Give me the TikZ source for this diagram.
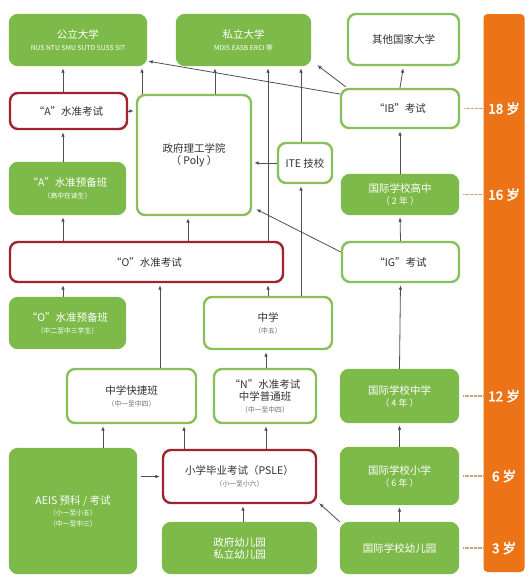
\documentclass[tikz,border=0pt]{standalone}
\usepackage{fontspec}
\setmainfont{Noto Sans CJK SC}[AutoFakeBold=2.5]
\usetikzlibrary{arrows.meta}
\definecolor{gfill}{RGB}{125,186,74}
\definecolor{gline}{RGB}{138,192,92}
\definecolor{rline}{RGB}{160,35,45}
\definecolor{orng}{RGB}{236,116,22}
\definecolor{arrc}{RGB}{80,80,80}
\definecolor{txt}{RGB}{50,50,50}
\definecolor{subt}{RGB}{105,105,105}
\definecolor{dotc}{RGB}{205,165,125}
\newcommand\sm{\fontsize{6.8}{9}\selectfont}
\newcommand\md{\fontsize{9}{11}\selectfont}
\newcommand\bx[7]{\node[#6, minimum width={#4-#2}, minimum height={#5-#3}] (#1) at ({(#2+#4)/2},{(#3+#5)/2}) {#7};}
\begin{document}
\begin{tikzpicture}[x=1pt,y=-1pt,
  box/.style={rounded corners=8pt, line width=2.4pt, align=center, inner sep=0pt, font=\fontsize{10.5}{14}\selectfont},
  gbox/.style={box, fill=gfill, draw=gfill, text=white},
  wbox/.style={box, fill=white, draw=gline, text=txt},
  rbox/.style={box, fill=white, draw=rline, text=txt},
  arr/.style={draw=arrc, line width=0.8pt, -{Latex[length=4.5pt,width=3.6pt]}, shorten >=2pt},
  dotln/.style={draw=dotc, line width=1.6pt, dash pattern=on 0.8pt off 0.5pt},
  agelab/.style={text=white, font=\bfseries\fontsize{13.5}{14}\selectfont}]
\useasboundingbox (0,0) rectangle (532,581);
\fill[white] (0,0) rectangle (532,581);
% orange bar
\node[fill=orng, rounded corners=4pt, minimum width=41, minimum height=558, inner sep=0pt] (bar) at (504,293) {};
% boxes
\bx{pub}{10}{15}{146}{65}{gbox}{公立大学\\[-2pt]{\sm NUS NTU SMU SUTD SUSS SIT}}
\bx{pri}{177}{15}{310}{65}{gbox}{私立大学\\[-2pt]{\sm MDIS EASB ERCI 等}}
\bx{oth}{348}{14}{459}{65}{wbox}{其他国家大学}
\bx{ao}{10}{93}{127}{129}{rbox}{“A”水准考试}
\bx{poly}{137}{95}{251}{215}{wbox}{政府理工学院\\[-2pt]（ Poly ）}
\bx{ite}{278}{143}{332}{183}{wbox}{ITE 技校}
\bx{ib}{341}{89}{459}{128}{wbox}{“IB”考试}
\bx{aprep}{10}{163}{125}{214}{gbox}{“A”水准预备班\\[-2pt]{\sm（高中在读生）}}
\bx{ihs}{342}{175}{458}{214}{gbox}{国际学校高中\\[-2pt]{\md（ 2 年 ）}}
\bx{o}{10}{242}{283}{282}{rbox}{“O”水准考试}
\bx{ig}{342}{242}{459}{282}{wbox}{“IG”考试}
\bx{oprep}{10}{298}{125}{348}{gbox}{“O”水准预备班\\[-2pt]{\sm（中二至中三学生）}}
\bx{sec}{204}{297}{332}{349}{wbox}{中学\\[-2pt]{\sm\color{subt}（中五）}}
\bx{exp}{67}{369}{196}{423}{wbox}{中学快捷班\\[-2pt]{\sm\color{subt}（中一至中四）}}
\bx{nlev}{214}{369}{316}{423}{wbox}{“N”水准考试\\[-2pt]中学普通班\\[-2pt]{\sm\color{subt}（中一至中四）}}
\bx{ims}{341}{370}{458}{422}{gbox}{国际学校中学\\[-2pt]{\md（ 4 年 ）}}
\bx{aeis}{10}{449}{136}{573}{gbox}{AEIS 预科 / 考试\\[-3pt]{\sm（小一至小五）}\\[-3pt]{\sm（中一至中三）}}
\bx{psle}{163}{450}{316}{503}{rbox}{小学毕业考试（PSLE）\\[-2pt]{\sm\color{subt}（小一至小六）}}
\bx{kg}{163}{523}{316}{573}{gbox}{政府幼儿园\\[-2pt]私立幼儿园}
\bx{ips}{341}{448}{458}{504}{gbox}{国际学校小学\\[-2pt]{\md（ 6 年 ）}}
\bx{ikg}{341}{523}{458}{573}{gbox}{国际学校幼儿园}
% age labels
\node[agelab] (a18) at (bar.center |- ib.center) {18 岁};
\node[agelab] (a16) at (bar.center |- ihs.center) {16 岁};
\node[agelab] (a12) at (bar.center |- ims.center) {12 岁};
\node[agelab] (a6) at (bar.center |- ips.center) {6 岁};
\node[agelab] (a3) at (bar.center |- ikg.center) {3 岁};
\foreach \b in {ib,ihs,ims,ips,ikg}{
  \draw[dotln, shorten <=4pt] (\b.east) -- (\b.east -| bar.west);
}
% column coordinates
\coordinate (c63) at (63,0);
\coordinate (c103) at (103,0);
\coordinate (c142) at (142,0);
\coordinate (c160) at (160,0);
\coordinate (c184) at (184,0);
\coordinate (c188) at (188,0);
\coordinate (c215) at (215,0);
\coordinate (c243) at (243,0);
\coordinate (c266) at (266,0);
\coordinate (c268) at (268,0);
\coordinate (c301) at (301,0);
% arrows
\draw[arr] (ao.north -| c63) -- (pub.south -| c63);
\draw[arr] (poly.north -| c142) -- (pub.south -| c142);
\draw[arr] (poly.north -| c215) -- (pri.south -| c215);
\draw[arr] (ao.east) -- (poly.west |- ao.east);
\draw[arr] (aprep.north -| c63) -- (ao.south -| c63);
\draw[arr] (o.north -| c63) -- (aprep.south -| c63);
\draw[arr] (o.north -| c188) -- (poly.south -| c188);
\draw[arr] (oprep.north -| c63) -- (o.south -| c63);
\draw[arr] (exp.north -| c160) -- (o.south -| c160);
\draw[arr] (sec.north -| c268) -- (o.south -| c268);
\draw[arr] (o.north -| c268) -- (pri.south -| c268);
\draw[arr] (sec.north -| c301) -- (ite.south -| c301);
\draw[arr] (ite.north -| c301) -- (pri.south -| c301);
\draw[arr] (ite.west) -- (poly.east |- ite.west);
\draw[arr, shorten >=0pt] ([yshift=14.5pt]ib.west) -- ([xshift=1pt,yshift=5pt]pub.south east);
\draw[arr, shorten >=0pt] ([xshift=6pt,yshift=1pt]ib.north west) -- ([xshift=6pt,yshift=1pt]pri.south east);
\draw[arr] (ib.north) -- (oth.south);
\draw[arr] (ihs.north) -- (ib.south);
\draw[arr] (ig.north) -- (ihs.south);
\draw[arr, shorten >=0pt] ([yshift=10pt]ig.west) -- ([xshift=4pt,yshift=7pt]poly.south east);
\draw[arr] (ims.north) -- (ig.south);
\draw[arr] (aeis.north -| c103) -- (exp.south -| c103);
\draw[arr] (psle.north -| c184) -- (exp.south -| c184);
\draw[arr] (psle.north -| c266) -- (nlev.south -| c266);
\draw[arr] (nlev.north -| c266) -- (sec.south -| c266);
\draw[arr, shorten <=4pt] (aeis.east |- psle.west) -- (psle.west);
\draw[arr] (kg.north -| c243) -- (psle.south -| c243);
\draw[arr, shorten >=0pt] (ikg.north west) -- ([xshift=2pt,yshift=1pt]psle.south east);
\draw[arr] (ikg.north) -- (ips.south);
\draw[arr] (ips.north) -- (ims.south);
\end{tikzpicture}
\end{document}
